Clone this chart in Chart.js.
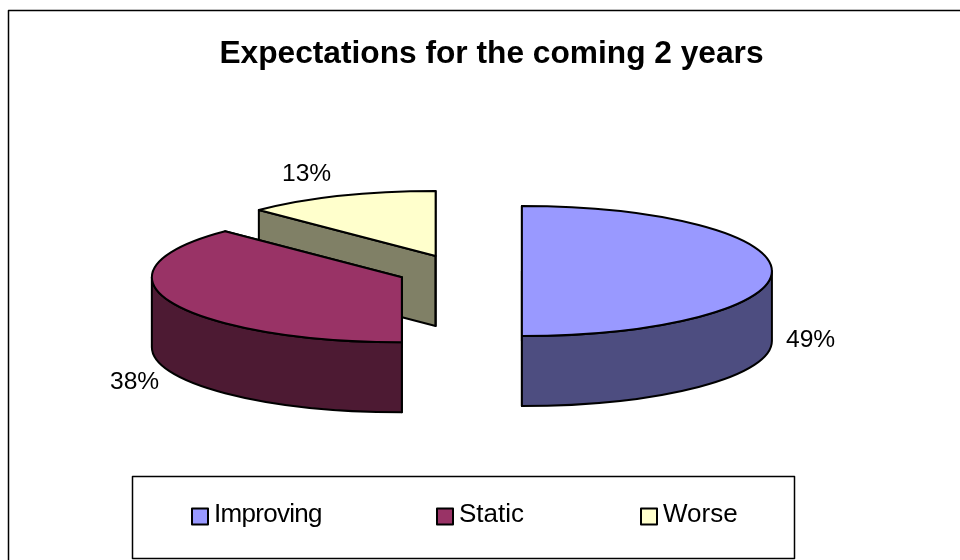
<!DOCTYPE html>
<html>
<head>
<meta charset="utf-8">
<style>
html, body { margin: 0; padding: 0; background: #fff; }
#box { position: relative; width: 960px; height: 560px; }
</style>
<script src="https://cdn.jsdelivr.net/npm/chart.js@4"></script>
</head>
<body>
<div id="box"><canvas id="pieChart" width="960" height="560"></canvas></div>
<script>
var categories = ["Improving", "Static", "Worse"];
// slice sizes (half, 135 and 45 degrees);
// the printed percentages are rounded differently, so they are kept apart
var sliceShares = [50, 37.5, 12.5];
var percentLabels = ["49%", "38%", "13%"];
var chartTitle = "Expectations for the coming 2 years";

var topColors = ["#9999ff", "#993366", "#ffffcc"];
var sideColors = ["#4d4d80", "#4d1a33", "#808066"];

var labelSpots = [[786, 347], [110, 389], [282, 181]];
var legendSpots = [192, 437, 641];
var legendTracking = ["-0.7px", "0px", "0px"];
var tilt = 0.26;      // vertical squash of the pie
var depth = 70;       // height of the wall
var explode = 62.4;   // how far each slice is pulled out
var font = "Liberation Sans, Arial, sans-serif";

function sliceCenter(arc) {
    var mid = (arc.startAngle + arc.endAngle) / 2;
    return {
        x: arc.x + Math.cos(mid) * explode,
        y: arc.y + Math.sin(mid) * explode * tilt
    };
}

function outlineWedge(ctx, arc, c, dy) {
    var ry = arc.outerRadius * tilt;
    ctx.beginPath();
    ctx.moveTo(c.x, c.y + dy);
    ctx.ellipse(c.x, c.y + dy, arc.outerRadius, ry, 0, arc.startAngle, arc.endAngle);
    ctx.closePath();
}

function rimPoint(arc, c, a) {
    return {
        x: c.x + Math.cos(a) * arc.outerRadius,
        y: c.y + Math.sin(a) * arc.outerRadius * tilt
    };
}

function drawWalls(ctx, arc, c, color) {
    ctx.fillStyle = color;
    ctx.strokeStyle = "#000";
    ctx.lineWidth = 2;
    ctx.lineJoin = "round";

    // flat cut faces
    [arc.startAngle, arc.endAngle].forEach(function (a) {
        var p = rimPoint(arc, c, a);
        ctx.beginPath();
        ctx.moveTo(c.x, c.y);
        ctx.lineTo(p.x, p.y);
        ctx.lineTo(p.x, p.y + depth);
        ctx.lineTo(c.x, c.y + depth);
        ctx.closePath();
        ctx.fill();
        ctx.stroke();
    });

    // curved front wall, only the part that faces us
    var from = Math.max(arc.startAngle, 0);
    var to = Math.min(arc.endAngle, Math.PI);
    if (to > from) {
        var ry = arc.outerRadius * tilt;
        ctx.beginPath();
        ctx.ellipse(c.x, c.y, arc.outerRadius, ry, 0, from, to);
        ctx.ellipse(c.x, c.y + depth, arc.outerRadius, ry, 0, to, from, true);
        ctx.closePath();
        ctx.fill();
        ctx.stroke();
    }
}

var pie3d = {
    id: "pie3d",
    beforeDatasetsDraw: function (chart) {
        var ctx = chart.ctx;
        var arcs = chart.getDatasetMeta(0).data;
        var i, c;

        // back slice first so the nearer ones cover it
        for (i = arcs.length - 1; i >= 0; i--) {
            c = sliceCenter(arcs[i]);
            drawWalls(ctx, arcs[i], c, sideColors[i]);

            ctx.save();
            ctx.translate(c.x, c.y);
            ctx.scale(1, tilt);
            ctx.translate(-arcs[i].x, -arcs[i].y);
            arcs[i].draw(ctx);
            ctx.restore();

            ctx.strokeStyle = "#000";
            ctx.lineWidth = 2;
            outlineWedge(ctx, arcs[i], c, 0);
            ctx.stroke();
        }
        return false;
    },
    afterDraw: function (chart) {
        var ctx = chart.ctx;
        ctx.save();

        // outer frame: only the left and top edges show in the picture
        ctx.strokeStyle = "#000";
        ctx.lineWidth = 1.5;
        ctx.beginPath();
        ctx.moveTo(8.5, 560);
        ctx.lineTo(8.5, 10.5);
        ctx.lineTo(960, 10.5);
        ctx.stroke();

        ctx.fillStyle = "#000";
        ctx.textBaseline = "alphabetic";
        ctx.font = "bold 31.7px " + font;
        ctx.textAlign = "center";
        ctx.fillText(chartTitle, 491.5, 62.5);

        ctx.textAlign = "left";
        ctx.font = "24.6px " + font;
        percentLabels.forEach(function (t, i) {
            ctx.fillText(t, labelSpots[i][0], labelSpots[i][1]);
        });

        // legend box
        ctx.lineWidth = 1.5;
        ctx.strokeRect(132.5, 476.5, 662, 82);
        ctx.font = "26px " + font;
        categories.forEach(function (name, i) {
            var x = legendSpots[i];
            ctx.fillStyle = topColors[i];
            ctx.fillRect(x, 508.5, 16, 16);
            ctx.lineWidth = 2;
            ctx.strokeRect(x, 508.5, 16, 16);
            ctx.fillStyle = "#000";
            ctx.letterSpacing = legendTracking[i];
            ctx.fillText(name, x + 22, 522);
        });
        ctx.restore();
    }
};

Chart.defaults.font.family = font;

var chart = new Chart(document.getElementById("pieChart").getContext("2d"), {
    type: "pie",
    data: {
        labels: categories,
        datasets: [{
            data: sliceShares,
            backgroundColor: topColors,
            borderWidth: 0
        }]
    },
    options: {
        responsive: false,
        animation: false,
        events: [],
        radius: 250,
        layout: { padding: { right: 41, bottom: 18 } },
        plugins: {
            legend: { display: false },
            tooltip: { enabled: false }
        }
    },
    plugins: [pie3d]
});
</script>
</body>
</html>
